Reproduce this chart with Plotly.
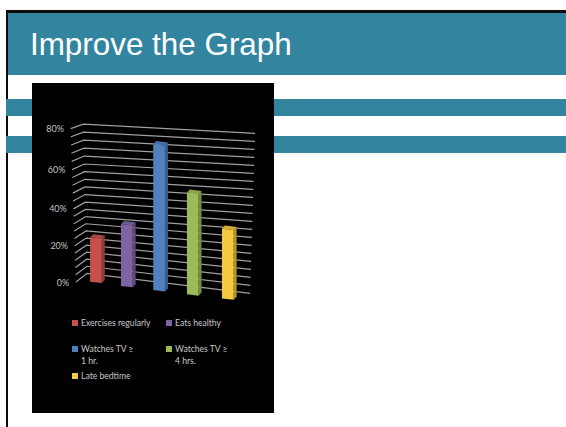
import plotly.graph_objects as go

categories = ["Exercises regularly", "Eats healthy", "Watches TV ≥<br>1 hr.", "Watches TV ≥<br>4 hrs.", "Late bedtime"]
values = [24, 33, 77, 53, 36]
front_colors = ["#c5504d", "#8064a2", "#4f81bd", "#9bbb59", "#f4c93e"]
side_colors = ["#8f3b39", "#5f4a79", "#3a608c", "#738b42", "#b5952e"]
top_colors = ["#a84644", "#705890", "#4571a6", "#88a44e", "#d6b036"]
grid_levels = list(range(0, 84, 4))
tick_vals = [0, 20, 40, 60, 80]
tick_text = ["0%", "20%", "40%", "60%", "80%"]
title = "Improve the Graph"

W, H = 566, 427
TEAL = "#33849f"
FLOOR_DROP = 2.2      # % per category: the floor falls away to the right
BAR_W, SIDE_DX, SIDE_DY, TILT = 0.354, 0.09, 1.6, 0.7
PX_X0, PX_PER_CAT = 96.7, 33.0
PX_Y0, PX_PER_PCT = 281.7, 1.909
PLOT_L, PLOT_R, PLOT_T, PLOT_B = 40, 256, 110, 305
WARP_T = {0: 0.0, 20: 0.236, 40: 0.477, 60: 0.733, 80: 1.0}


def lerp(a, b, t):
    return a + (b - a) * t


def warp(v):
    """Perspective spacing of the left edge of the wall."""
    lo = min(int(v // 20) * 20, 60)
    return lerp(WARP_T[lo], WARP_T[lo + 20], (v - lo) / 20)


def front_x(v):
    return lerp(-0.63, -0.79, warp(v))


def front_y(v):
    return lerp(-0.2, 80.2, warp(v))


def slot(i):
    """Left edge of bar i: slots widen towards the viewer on the right."""
    return -0.2 + 0.915 * i + 0.021 * i * i


fig = go.Figure()

for v in grid_levels:
    t = v / 80
    fig.add_trace(go.Scatter(
        x=[front_x(v), lerp(-0.29, -0.406, warp(v)), lerp(4.65, 4.80, t)],
        y=[front_y(v), lerp(4.4, 82.5, warp(v)), lerp(-6.1, 77.7, t)],
        mode="lines", line=dict(color="#a0a0a0", width=1.2),
        hoverinfo="skip", showlegend=False))

fig.add_trace(go.Scatter(
    x=[front_x(v) - 0.2 for v in tick_vals], y=[front_y(v) - 0.7 for v in tick_vals],
    text=tick_text, mode="text", textposition="middle left",
    textfont=dict(family="Lato", size=9, color="#c0c0c0"),
    hoverinfo="skip", showlegend=False, cliponaxis=False))

for i, (name, v) in enumerate(zip(categories, values)):
    base = -FLOOR_DROP * i
    h = v * (1 + 0.012 * i) * 0.97
    xl, xr = slot(i), slot(i) + BAR_W
    # side face
    fig.add_trace(go.Scatter(
        x=[xr, xr + SIDE_DX, xr + SIDE_DX, xr],
        y=[base - TILT, base - TILT + SIDE_DY, base + h - TILT + SIDE_DY, base + h - TILT],
        fill="toself", fillcolor=side_colors[i], mode="none",
        hoverinfo="skip", showlegend=False))
    # top face
    fig.add_trace(go.Scatter(
        x=[xl, xr, xr + SIDE_DX, xl + SIDE_DX],
        y=[base + h, base + h - TILT, base + h - TILT + SIDE_DY, base + h + SIDE_DY],
        fill="toself", fillcolor=top_colors[i], mode="none",
        hoverinfo="skip", showlegend=False))
    # front face
    fig.add_trace(go.Scatter(
        x=[xl, xr, xr, xl],
        y=[base, base - TILT, base + h - TILT, base + h],
        fill="toself", fillcolor=front_colors[i], mode="none",
        name=name.replace("<br>", " "), showlegend=False))


def rect(x0, y0, x1, y1, color, layer="below"):
    return dict(type="rect", xref="paper", yref="paper",
                x0=x0 / W, x1=x1 / W, y0=1 - y0 / H, y1=1 - y1 / H,
                fillcolor=color, line_width=0, layer=layer)


shapes = [
    rect(6, 10, W, 13, "#0b0b0b"),
    rect(6, 10, 8, H, "#0b0b0b"),
    rect(8, 13, W, 75, TEAL),
    rect(6, 99, W, 116, TEAL),
    rect(6, 136, W, 153, TEAL),
    rect(32, 83, 274, 413, "#000000"),
]

annotations = [dict(text=title, xref="paper", yref="paper", x=28 / W, y=1 - 44 / H,
                    xanchor="left", yanchor="middle", showarrow=False,
                    font=dict(family="Liberation Sans", size=31.4, color="#ffffff"))]

legend_pos = [(72, 323), (166, 323), (72, 349), (166, 349), (72, 376)]
LINE_PITCH = 12.3
for (px, py), name, c in zip(legend_pos, categories, front_colors):
    shapes.append(rect(px, py - 3, px + 6, py + 3, c))
    for k, line in enumerate(name.split("<br>")):
        annotations.append(dict(
            text=line, xref="paper", yref="paper",
            x=(px + 8.5) / W, y=1 - (py + k * LINE_PITCH) / H,
            xanchor="left", yanchor="middle", align="left", showarrow=False,
            borderpad=0, borderwidth=0,
            font=dict(family="Lato", size=8.6, color="#c8c8c8")))

fig.update_layout(
    width=W, height=H, autosize=False,
    margin=dict(l=0, r=0, t=0, b=0),
    paper_bgcolor="#ffffff", plot_bgcolor="rgba(0,0,0,0)",
    showlegend=False,
    shapes=shapes, annotations=annotations,
    xaxis=dict(domain=[PLOT_L / W, PLOT_R / W],
               range=[(PLOT_L - PX_X0) / PX_PER_CAT, (PLOT_R - PX_X0) / PX_PER_CAT],
               visible=False, fixedrange=True),
    yaxis=dict(domain=[1 - PLOT_B / H, 1 - PLOT_T / H],
               range=[(PX_Y0 - PLOT_B) / PX_PER_PCT, (PX_Y0 - PLOT_T) / PX_PER_PCT],
               visible=False, fixedrange=True),
)

fig.write_html("out.html", config={"displayModeBar": False},
               post_script="document.body.style.margin='0';document.body.style.overflow='hidden';window.dispatchEvent(new Event('resize'));")
